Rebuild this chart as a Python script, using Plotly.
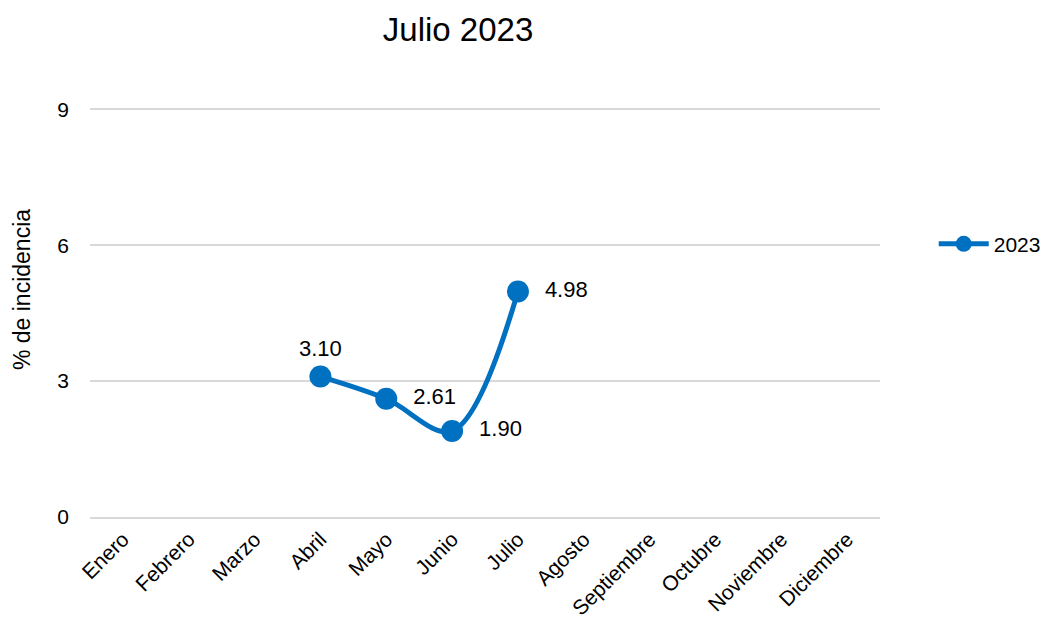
import plotly.graph_objects as go

months = ["Enero", "Febrero", "Marzo", "Abril", "Mayo", "Junio", "Julio",
          "Agosto", "Septiembre", "Octubre", "Noviembre", "Diciembre"]
values_2023 = [None, None, None, 3.10, 2.61, 1.90, 4.98, None, None, None, None, None]
label_pos = ["top center", "top center", "top center", "top center", "middle right",
             "middle right", "middle right", "top center", "top center", "top center",
             "top center", "top center"]
y_ticks = [0, 3, 6, 9]

labels = ["" if v is None else (f"{v:.2f}" if i == 3 else f"  {v:.2f}")
          for i, v in enumerate(values_2023)]

FONT = "Liberation Sans"
BLUE = "#0070C0"

fig = go.Figure()
fig.add_trace(go.Scatter(
    x=months, y=values_2023, name="2023",
    mode="lines+markers+text",
    line=dict(color=BLUE, width=5, shape="spline", smoothing=1.0),
    marker=dict(color=BLUE, size=22),
    text=labels, textposition=label_pos,
    textfont=dict(family=FONT, size=22, color="#000000"),
    cliponaxis=False,
))

fig.add_annotation(
    text="% de incidencia", textangle=-90, showarrow=False,
    xref="paper", yref="paper", x=-0.086, y=0.555,
    xanchor="center", yanchor="middle",
    font=dict(family=FONT, size=23, color="#000000"),
)

fig.update_layout(
    width=1049, height=627,
    margin=dict(l=82, r=177, t=100, b=118, autoexpand=False),
    paper_bgcolor="white", plot_bgcolor="white",
    font=dict(family=FONT, size=21, color="#000000"),
    title=dict(text="Julio 2023", x=0.429, xref="container", xanchor="center",
               y=0.965, yref="container", yanchor="middle",
               font=dict(family=FONT, size=33, color="#000000")),
    showlegend=True,
    legend=dict(x=1.068, y=0.667, xanchor="left", yanchor="middle",
                font=dict(family=FONT, size=21), itemwidth=50),
    xaxis=dict(categoryorder="array", categoryarray=months, range=[-0.5, 11.5],
               tickangle=-45, automargin=False,
               showgrid=False, showline=True, linecolor="#d9d9d9", linewidth=1.5,
               ticks="", tickfont=dict(family=FONT, size=21)),
    yaxis=dict(range=[0, 9.03], tickvals=y_ticks, showgrid=True, gridcolor="#d9d9d9",
               gridwidth=1.5, zeroline=False, ticks="", showline=False,
               automargin=False, ticklabelstandoff=20,
               tickfont=dict(family=FONT, size=21)),
)

fig.write_html("out.html")
